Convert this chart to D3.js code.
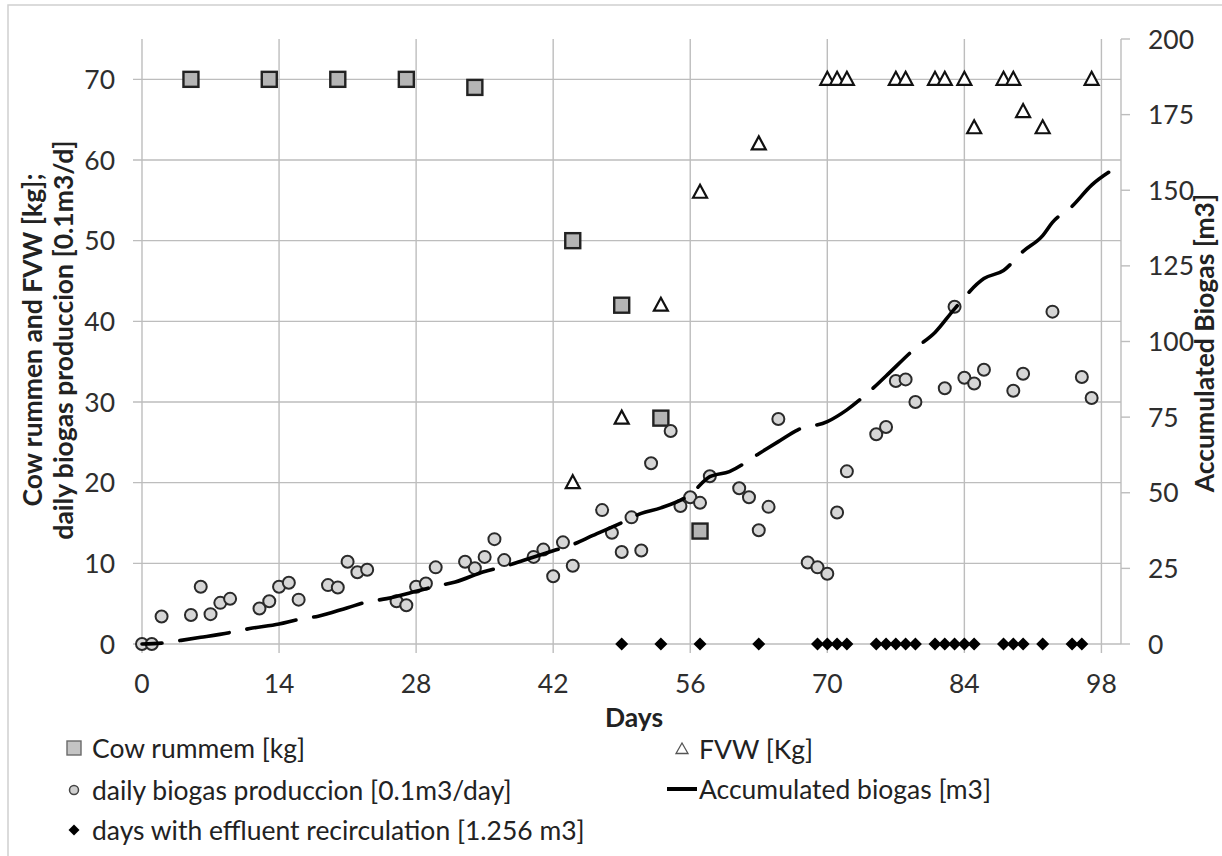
<!DOCTYPE html>
<html><head><meta charset="utf-8">
<script src="https://cdn.jsdelivr.net/npm/d3@7"></script>
<style>html,body{margin:0;padding:0;background:#fff;overflow:hidden}</style>
</head><body>
<svg id="chart" width="1222" height="856"></svg>
<script>
// ---------- data ----------
const xTicks = [0, 14, 28, 42, 56, 70, 84, 98];
const leftTicks = [0, 10, 20, 30, 40, 50, 60, 70];
const rightTicks = [0, 25, 50, 75, 100, 125, 150, 175, 200];

const cowDays = [5, 13, 20, 27, 34, 44, 49, 53, 57];
const cowKg   = [70, 70, 70, 70, 69, 50, 42, 28, 14];

const fvwDays = [44, 49, 53, 57, 63, 70, 71, 72, 77, 78, 81, 82, 84, 85, 88, 89, 90, 92, 97];
const fvwKg   = [20, 28, 42, 56, 62, 70, 70, 70, 70, 70, 70, 70, 70, 64, 70, 70, 66, 64, 70];

const biogasDays = [0, 1, 2, 5, 6, 7, 8, 9, 12, 13, 14, 15, 16, 19, 20, 21, 22, 23, 26, 27, 28, 29, 30,
  33, 34, 35, 36, 37, 40, 41, 42, 43, 44, 47, 48, 49, 50, 51, 52, 54, 55, 56, 57, 58, 61, 62, 63, 64, 65,
  68, 69, 70, 71, 72, 75, 76, 77, 78, 79, 82, 83, 84, 85, 86, 89, 90, 93, 96, 97];
const biogasDaily = [0, 0, 3.4, 3.6, 7.1, 3.7, 5.1, 5.6, 4.4, 5.3, 7.1, 7.6, 5.5, 7.3, 7.0, 10.2, 8.9, 9.2, 5.3, 4.8, 7.1, 7.5, 9.5,
  10.2, 9.4, 10.8, 13.0, 10.4, 10.8, 11.7, 8.4, 12.6, 9.7, 16.6, 13.8, 11.4, 15.7, 11.6, 22.4, 26.4, 17.1, 18.2, 17.5, 20.8, 19.3, 18.2, 14.1, 17.0, 27.9,
  10.1, 9.5, 8.7, 16.3, 21.4, 26.0, 26.9, 32.6, 32.8, 30.0, 31.7, 41.8, 33.0, 32.3, 34.0, 31.4, 33.5, 41.2, 33.1, 30.5];

const accDays = [0, 2, 4, 6, 9, 11, 14, 16, 18, 21, 23, 25, 28, 30, 32, 35, 37, 39, 42, 44, 46, 49, 51, 53, 56, 58, 60,
  63, 65, 67, 70, 72, 74, 76, 79, 81, 83, 86, 88, 90, 92, 93, 95, 97, 99, 100];
const accBiogas = [0, 0.3, 1.2, 2.2, 3.8, 5.1, 6.6, 8.1, 9.2, 12.0, 13.9, 15.0, 17.4, 19.1, 20.5, 24.0, 25.6, 27.7, 30.8, 32.9, 35.8, 40.1, 43.2, 45.0, 49.5, 55.3, 57.0,
  62.9, 66.9, 70.8, 73.5, 77.4, 82.6, 88.6, 97.8, 103.0, 110.8, 120.8, 123.5, 129.8, 135.0, 139.4, 144.7, 151.7, 156.5, 158.5];

const recircDays = [49, 53, 57, 63, 69, 70, 71, 72, 75, 76, 77, 78, 79, 81, 82, 83, 84, 85, 88, 89, 90, 92, 95, 96];

const legendLeft = ["Cow rummem [kg]", "daily biogas produccion [0.1m3/day]", "days with effluent recirculation [1.256 m3]"];
const legendRight = ["FVW [Kg]", "Accumulated biogas [m3]"];
const xTitle = "Days";
const yLeftTitle = ["Cow rummen and FVW [kg];", "daily biogas produccion [0.1m3/d]"];
const yRightTitle = "Accumulated Biogas [m3]";

// ---------- drawing ----------
const FONT = "Lato, 'Open Sans', sans-serif";
const svg = d3.select("#chart");

// calibrate font size so text widths match the reference (Calibri-like)
const probe = svg.append("text").attr("font-family", FONT).attr("font-size", 25).text(legendLeft[1]);
const pw = probe.node().getComputedTextLength();
probe.remove();
let FS = 25 * 420 / pw;
FS = Math.max(22, Math.min(28, FS));

const x = d3.scaleLinear().domain([0, 100]).range([142, 1121]);
const yL = d3.scaleLinear().domain([0, 75]).range([644, 39]);
const yR = d3.scaleLinear().domain([0, 200]).range([644, 39]);

// outer border
svg.append("rect").attr("x", 8).attr("y", 5).attr("width", 1250).attr("height", 870)
  .attr("fill", "#fff").attr("stroke", "#d0d0d0").attr("stroke-width", 1.5);

const grid = svg.append("g").attr("stroke", "#bdbdbd").attr("stroke-width", 1.4);
// horizontal gridlines (+ left ticks)
grid.selectAll("line.h").data(leftTicks).join("line")
  .attr("x1", 133).attr("x2", x(100))
  .attr("y1", d => yL(d)).attr("y2", d => yL(d));
// vertical gridlines (+ bottom ticks)
grid.selectAll("line.v").data(xTicks).join("line")
  .attr("x1", d => x(d)).attr("x2", d => x(d))
  .attr("y1", yL(75)).attr("y2", 653);
// right axis
grid.append("line").attr("x1", x(100)).attr("x2", x(100)).attr("y1", yR(200)).attr("y2", yR(0));
grid.selectAll("line.r").data(rightTicks).join("line")
  .attr("x1", x(100)).attr("x2", x(100) + 9)
  .attr("y1", d => yR(d)).attr("y2", d => yR(d));

// tick labels
const tc = "#2e2e2e";
svg.append("g").selectAll("text").data(leftTicks).join("text")
  .attr("x", 115).attr("y", d => yL(d)).attr("dy", "0.36em")
  .attr("text-anchor", "end").attr("font-family", FONT).attr("font-size", FS).attr("fill", tc)
  .text(d => d);
svg.append("g").selectAll("text").data(rightTicks).join("text")
  .attr("x", 1148).attr("y", d => yR(d)).attr("dy", "0.36em")
  .attr("text-anchor", "start").attr("font-family", FONT).attr("font-size", FS).attr("fill", tc)
  .text(d => d);
svg.append("g").selectAll("text").data(xTicks).join("text")
  .attr("x", d => x(d)).attr("y", 683).attr("dy", "0.36em")
  .attr("text-anchor", "middle").attr("font-family", FONT).attr("font-size", FS).attr("fill", tc)
  .text(d => d);

// axis titles
svg.append("text").attr("x", 634).attr("y", 717).attr("dy", "0.36em")
  .attr("text-anchor", "middle").attr("font-family", FONT).attr("font-size", FS)
  .attr("font-weight", "bold").attr("fill", "#222").text(xTitle);
const yt = svg.append("text").attr("transform", "translate(0,340) rotate(-90)")
  .attr("text-anchor", "middle").attr("font-family", FONT).attr("font-size", FS)
  .attr("font-weight", "bold").attr("fill", "#222");
yt.selectAll("tspan").data(yLeftTitle).join("tspan")
  .attr("x", 0).attr("y", (d, i) => [32, 63][i]).attr("dy", "0.36em").text(d => d);
svg.append("text").attr("transform", "translate(1204,343) rotate(-90)")
  .attr("text-anchor", "middle").attr("dy", "0.36em").attr("font-family", FONT).attr("font-size", FS)
  .attr("font-weight", "bold").attr("fill", "#222").text(yRightTitle);

// ---------- series ----------
const cow = cowDays.map((d, i) => ({ d, v: cowKg[i] }));
const fvw = fvwDays.map((d, i) => ({ d, v: fvwKg[i] }));
const daily = biogasDays.map((d, i) => ({ d, v: biogasDaily[i] }));
const acc = accDays.map((d, i) => ({ d, v: accBiogas[i] }));

const triPath = "M0,-7.5L7,5.5L-7,5.5Z";
const diaPath = "M0,-6.5L6.5,0L0,6.5L-6.5,0Z";

svg.append("g").selectAll("rect").data(cow).join("rect")
  .attr("x", d => x(d.d) - 7.5).attr("y", d => yL(d.v) - 7.5)
  .attr("width", 15).attr("height", 15)
  .attr("fill", "#b5b5b5").attr("stroke", "#222").attr("stroke-width", 2.4);

svg.append("g").selectAll("path").data(fvw).join("path")
  .attr("d", triPath).attr("transform", d => `translate(${x(d.d)},${yL(d.v)})`)
  .attr("fill", "#fff").attr("stroke", "#111").attr("stroke-width", 2.2).attr("stroke-linejoin", "miter");

svg.append("g").selectAll("circle").data(daily).join("circle")
  .attr("cx", d => x(d.d)).attr("cy", d => yL(d.v)).attr("r", 6)
  .attr("fill", "#d6d6d6").attr("stroke", "#2a2a2a").attr("stroke-width", 2);

const line = d3.line().x(d => x(d.d)).y(d => yR(d.v)).curve(d3.curveMonotoneX);
svg.append("path").datum(acc).attr("d", line)
  .attr("fill", "none").attr("stroke", "#000").attr("stroke-width", 3.6)
  .attr("stroke-dasharray", "50 18").attr("stroke-dashoffset", 30).attr("stroke-linecap", "round");

svg.append("g").selectAll("path").data(recircDays).join("path")
  .attr("d", diaPath).attr("transform", d => `translate(${x(d)},${yL(0)})`)
  .attr("fill", "#000");

// ---------- legend ----------
const lg = svg.append("g").attr("font-family", FONT).attr("font-size", FS).attr("fill", "#222");
const rowsL = [748, 790, 830];
lg.append("rect").attr("x", 67).attr("y", rowsL[0] - 7).attr("width", 14).attr("height", 14)
  .attr("fill", "#c4c4c4").attr("stroke", "#6a6a6a").attr("stroke-width", 1.4);
lg.append("circle").attr("cx", 74).attr("cy", rowsL[1]).attr("r", 4.5)
  .attr("fill", "#d0d0d0").attr("stroke", "#444").attr("stroke-width", 1.5);
lg.append("path").attr("d", "M0,-5.5L5.5,0L0,5.5L-5.5,0Z").attr("transform", `translate(74,${rowsL[2]})`).attr("fill", "#000");
lg.selectAll("text.l").data(legendLeft).join("text")
  .attr("x", 92).attr("y", (d, i) => rowsL[i]).attr("dy", "0.36em").text(d => d);

const rowsR = [749, 789];
lg.append("path").attr("d", "M0,-6L6,4.5L-6,4.5Z").attr("transform", `translate(682,${rowsR[0]})`)
  .attr("fill", "#fff").attr("stroke", "#555").attr("stroke-width", 1.3);
lg.append("line").attr("x1", 667).attr("x2", 697).attr("y1", rowsR[1]).attr("y2", rowsR[1])
  .attr("stroke", "#000").attr("stroke-width", 4);
lg.selectAll("text.r").data(legendRight).join("text")
  .attr("x", 699).attr("y", (d, i) => rowsR[i]).attr("dy", "0.36em").text(d => d);
</script>
</body></html>
